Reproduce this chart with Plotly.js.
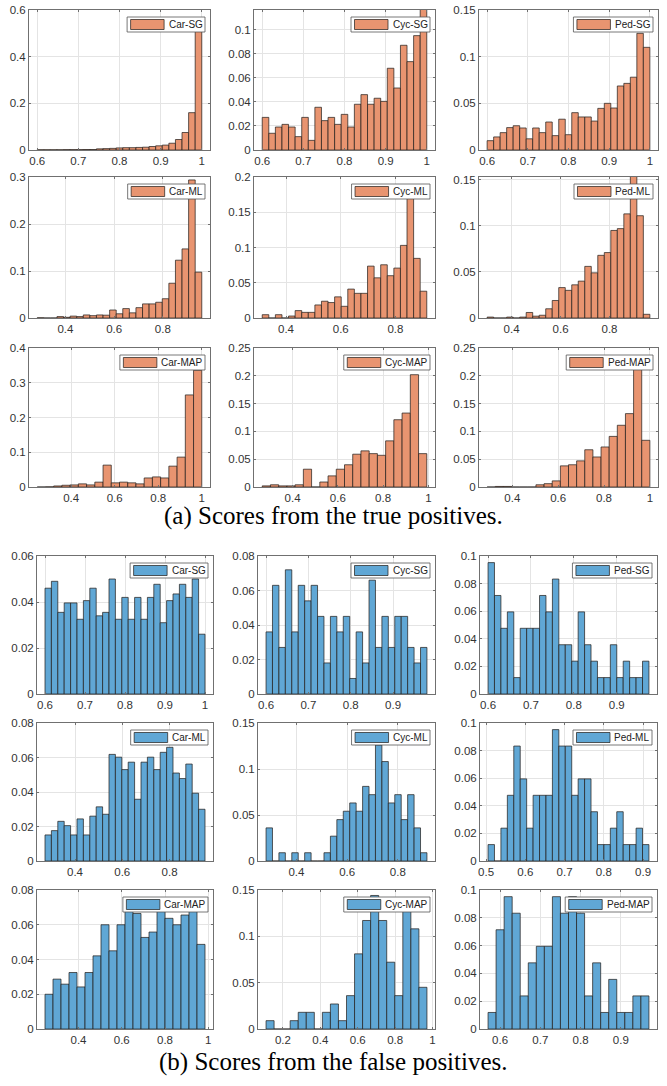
<!DOCTYPE html>
<html>
<head>
<meta charset="utf-8">
<script src="https://cdn.plot.ly/plotly-3.0.1.min.js"></script>
<style>
  html, body { margin: 0; padding: 0; background: #ffffff; }
  #chart { width: 667px; height: 1086px; }
</style>
</head>
<body>
<div id="chart"></div>
<script>
// ---- Score histograms: probability per bin, bins span [lo, hi] ----
// True positives
const tpCarSG  = [0.001,0.001,0.001,0.001,0.0015,0.0015,0.0015,0.002,0.002,0.005,0.006,0.007,0.009,0.010,0.010,0.011,0.012,0.015,0.018,0.021,0.029,0.045,0.075,0.160,0.515];
const tpCycSG  = [0.0271,0.0139,0.0191,0.0213,0.0191,0.0111,0.0271,0.0080,0.0355,0.0244,0.0271,0.0213,0.0296,0.0191,0.0380,0.0460,0.0380,0.0430,0.0404,0.0679,0.0515,0.0870,0.0734,0.0950,0.1170];
const tpPedSG  = [0.010,0.014,0.0186,0.024,0.026,0.0236,0.012,0.0236,0.0186,0.030,0.0154,0.033,0.0164,0.040,0.0354,0.0354,0.031,0.0446,0.050,0.045,0.0686,0.0714,0.078,0.125,0.110];
const tpCarML  = [0.0005,0,0,0.003,0.0015,0.004,0.003,0.0065,0.005,0.0065,0.006,0.017,0.009,0.020,0.011,0.022,0.030,0.030,0.0335,0.041,0.074,0.123,0.147,0.2937,0.0976];
const tpCycML  = [0.0047,0,0.0047,0,0.0028,0.0105,0.008,0.008,0.0185,0.0238,0.0219,0.030,0.0166,0.041,0.035,0.035,0.0736,0.057,0.0755,0.060,0.0708,0.103,0.172,0.0846,0.038];
const tpPedML  = [0.001,0,0,0.001,0,0.001,0.006,0.002,0.003,0.010,0.019,0.033,0.030,0.036,0.040,0.056,0.049,0.068,0.071,0.095,0.097,0.113,0.154,0.111,0.004];
const tpCarMAP = [0,0.0005,0.003,0.005,0.006,0.009,0.006,0.014,0.063,0.012,0.014,0.012,0.009,0.026,0.029,0.026,0.060,0.086,0.265,0.336];
const tpCycMAP = [0.002,0.004,0.002,0.002,0.004,0.032,0,0.009,0.020,0.032,0.040,0.059,0.065,0.060,0.057,0.083,0.121,0.133,0.202,0.060];
const tpPedMAP = [0,0.001,0.001,0,0,0,0.004,0.006,0.011,0.038,0.040,0.047,0.067,0.054,0.072,0.091,0.111,0.132,0.228,0.084];
// False positives
const fpCarSG  = [0.046,0.049,0.0355,0.0396,0.0396,0.0325,0.0406,0.046,0.034,0.0355,0.050,0.0325,0.042,0.0325,0.042,0.0325,0.042,0.0477,0.031,0.0406,0.0435,0.0477,0.042,0.050,0.026];
const fpCycSG  = [0.036,0.063,0.027,0.072,0.036,0.063,0.054,0.063,0.045,0.018,0.045,0.036,0.045,0.009,0.036,0.018,0.066,0.027,0.045,0.027,0.045,0.045,0.027,0.018,0.027];
const fpPedSG  = [0.0952,0.0714,0.0476,0.0595,0.0119,0.0476,0.0476,0.0476,0.0714,0.0595,0.0833,0.0357,0.0357,0.0238,0.0595,0.0357,0.0238,0.0119,0.0119,0.0357,0.0119,0.0238,0.0119,0.0119,0.0238];
const fpCarML  = [0.0151,0.0176,0.023,0.0205,0.0151,0.0244,0.0151,0.026,0.0314,0.0271,0.0618,0.0602,0.053,0.0573,0.0358,0.0573,0.0602,0.053,0.063,0.0659,0.051,0.0478,0.0562,0.0393,0.030];
const fpCycML  = [0.0360,0,0.0090,0,0.0090,0,0.0090,0,0,0.0090,0.0270,0.0450,0.0541,0.0631,0.0541,0.0811,0.0721,0.1261,0.1081,0.0631,0.0721,0.0450,0.0721,0.0360,0.0090];
const fpPedML  = [0.0119,0,0.0238,0.0476,0.0833,0.0595,0.0238,0.0476,0.0476,0.0476,0.0952,0.0833,0.0833,0.0476,0.0595,0.0595,0.0357,0.0119,0.0119,0.0238,0.0357,0.0119,0.0119,0.0238,0.0119];
const fpCarMAP = [0.020,0.0287,0.0258,0.0325,0.0242,0.0325,0.0421,0.060,0.045,0.060,0.072,0.0665,0.0527,0.0558,0.072,0.0637,0.060,0.0656,0.072,0.0487];
const fpCycMAP = [0.0090,0,0,0.0090,0.0180,0.0180,0,0.0180,0.0270,0.0090,0.0360,0.0811,0.1171,0.1441,0.1171,0.0721,0.0360,0.1351,0.1081,0.0450];
const fpPedMAP = [0.0119,0.0714,0.0952,0.0833,0.0238,0.0476,0.0595,0.0595,0.0952,0.0833,0.0952,0.0833,0.0238,0.0476,0.0119,0.0357,0.0119,0.0119,0.0238,0.0238];

// Score range covered by the bins of each histogram [lo, hi]
const tpBinRanges = [[0.6,1.0],[0.6,1.0],[0.6,1.0],[0.284,0.96],[0.313,0.9145],[0.30,0.965],[0.244,1.0],[0.266,0.993],[0.29,1.0]];
const fpBinRanges = [[0.6,1.0],[0.6,0.98],[0.6,0.975],[0.273,0.95],[0.28,0.915],[0.505,0.915],[0.245,0.985],[0.11,0.97],[0.57,0.97]];

const legendLabels = ['Car-SG','Cyc-SG','Ped-SG','Car-ML','Cyc-ML','Ped-ML','Car-MAP','Cyc-MAP','Ped-MAP'];
const tpYMax  = [0.6, 0.1163, 0.15, 0.3, 0.2, 0.153, 0.4, 0.25, 0.25];
const tpYStep = [0.2, 0.02, 0.05, 0.1, 0.05, 0.05, 0.1, 0.05, 0.05];
const fpYMax  = [0.06, 0.08, 0.1, 0.08, 0.15, 0.1, 0.08, 0.15, 0.1];
const fpYStep = [0.02, 0.02, 0.02, 0.02, 0.05, 0.02, 0.02, 0.05, 0.02];
const tpXStep = [0.1, 0.1, 0.1, 0.2, 0.2, 0.2, 0.2, 0.2, 0.2];
const fpXStep = [0.1, 0.1, 0.1, 0.2, 0.2, 0.1, 0.2, 0.2, 0.1];

const captionA = '(a) Scores from the true positives.';
const captionB = '(b) Scores from the false positives.';

// ---- page geometry (pixels) ----
const W = 667, H = 1086;
const px = v => v / W;
const py = v => 1 - v / H;
const tpRows = [[10,150],[177,318],[348,487]];
const fpRows = [[556,694],[723,861],[890,1029]];
const tpCols = [[29,210],[254,435],[479,658]];
const fpCols = [[37,213],[258,435],[480,657]];

const orangeFill = 'rgb(232,148,112)';
const blueFill   = 'rgb(96,167,213)';
const barEdge    = 'rgba(35,30,28,0.9)';

const tpData = [tpCarSG,tpCycSG,tpPedSG,tpCarML,tpCycML,tpPedML,tpCarMAP,tpCycMAP,tpPedMAP];
const fpData = [fpCarSG,fpCycSG,fpPedSG,fpCarML,fpCycML,fpPedML,fpCarMAP,fpCycMAP,fpPedMAP];

const panels = [];
for (let k = 0; k < 9; k++) {
  const r = Math.floor(k / 3), c = k % 3;
  panels.push({ p: tpData[k], bins: tpBinRanges[k], ymax: tpYMax[k], ystep: tpYStep[k], xstep: tpXStep[k],
                rows: tpRows[r], cols: tpCols[c], label: legendLabels[k], fill: orangeFill });
}
for (let k = 0; k < 9; k++) {
  const r = Math.floor(k / 3), c = k % 3;
  panels.push({ p: fpData[k], bins: fpBinRanges[k], ymax: fpYMax[k], ystep: fpYStep[k], xstep: fpXStep[k],
                rows: fpRows[r], cols: fpCols[c], label: legendLabels[k], fill: blueFill });
}

const roundv = v => Math.round(v * 1e6) / 1e6;
function ticksIn(lo, hi, step) {
  const vals = [];
  let v = Math.ceil(lo / step - 1e-9) * step;
  while (v <= hi + 1e-9) { vals.push(roundv(v)); v += step; }
  return vals;
}

const ctx = document.createElement('canvas').getContext('2d');
const legendFontSize = 10;
ctx.font = legendFontSize + 'px "Liberation Sans", Arial, sans-serif';

const traces = [], shapes = [], annotations = [];
const layout = {
  width: W, height: H, autosize: false,
  margin: { l: 0, r: 0, t: 0, b: 0, pad: 0 },
  paper_bgcolor: '#ffffff', plot_bgcolor: '#ffffff',
  showlegend: false, bargap: 0,
  font: { family: '"Liberation Sans", Arial, sans-serif', size: 11.5, color: '#333333' }
};

panels.forEach((pn, i) => {
  const n = i + 1;
  const sfx = n === 1 ? '' : String(n);
  const nb = pn.p.length;
  const [lo, hi] = pn.bins;
  const w = (hi - lo) / nb;
  const centers = pn.p.map((_, j) => lo + (j + 0.5) * w);
  traces.push({
    type: 'bar', x: centers, y: pn.p, width: centers.map(() => w),
    xaxis: 'x' + sfx, yaxis: 'y' + sfx,
    marker: { color: pn.fill, line: { color: barEdge, width: 0.8 } },
    hoverinfo: 'skip'
  });

  const pad = 0.05 * (hi - lo);
  const xr = [lo - pad, hi + pad];
  const xt = ticksIn(xr[0], xr[1], pn.xstep);
  const yt = ticksIn(0, pn.ymax, pn.ystep);
  const common = {
    showline: true, mirror: 'ticks', linecolor: '#707070', linewidth: 1,
    showgrid: true, gridcolor: '#e4e4e4', gridwidth: 1, zeroline: false,
    ticks: 'inside', ticklen: 2, tickcolor: '#707070',
    tickfont: { size: 11.5, color: '#333333' }, tickmode: 'array', fixedrange: true
  };
  layout['xaxis' + sfx] = Object.assign({}, common, {
    domain: [px(pn.cols[0]), px(pn.cols[1])], range: xr, anchor: 'y' + sfx,
    tickvals: xt, ticktext: xt.map(String)
  });
  layout['yaxis' + sfx] = Object.assign({}, common, {
    domain: [py(pn.rows[1]), py(pn.rows[0])], range: [0, pn.ymax], anchor: 'x' + sfx,
    tickvals: yt, ticktext: yt.map(String)
  });

  // legend box in the upper right corner of each panel
  const tw = ctx.measureText(pn.label).width;
  const boxR = pn.cols[1] - 5, boxT = pn.rows[0] + 7, boxH = 15;
  const boxL = boxR - (40 + tw + 4);
  shapes.push({ type: 'rect', xref: 'paper', yref: 'paper', layer: 'above',
    x0: px(boxL), x1: px(boxR), y0: py(boxT + boxH), y1: py(boxT),
    fillcolor: '#ffffff', line: { color: '#555555', width: 0.8 } });
  shapes.push({ type: 'rect', xref: 'paper', yref: 'paper', layer: 'above',
    x0: px(boxL + 3.5), x1: px(boxL + 37), y0: py(boxT + 12.5), y1: py(boxT + 2.5),
    fillcolor: pn.fill, line: { color: barEdge, width: 0.8 } });
  annotations.push({ xref: 'paper', yref: 'paper', x: px(boxL + 39.5), y: py(boxT + boxH / 2),
    xanchor: 'left', yanchor: 'middle', showarrow: false, text: pn.label,
    font: { size: legendFontSize, color: '#222222' } });
});

annotations.push({ xref: 'paper', yref: 'paper', x: 0.5, y: py(516), xanchor: 'center', yanchor: 'middle',
  showarrow: false, text: captionA, font: { family: '"Liberation Serif", "Times New Roman", serif', size: 25, color: '#000000' } });
annotations.push({ xref: 'paper', yref: 'paper', x: 0.5, y: py(1062), xanchor: 'center', yanchor: 'middle',
  showarrow: false, text: captionB, font: { family: '"Liberation Serif", "Times New Roman", serif', size: 25, color: '#000000' } });

layout.shapes = shapes;
layout.annotations = annotations;

Plotly.newPlot('chart', traces, layout, { staticPlot: true, displayModeBar: false });
</script>
</body>
</html>
